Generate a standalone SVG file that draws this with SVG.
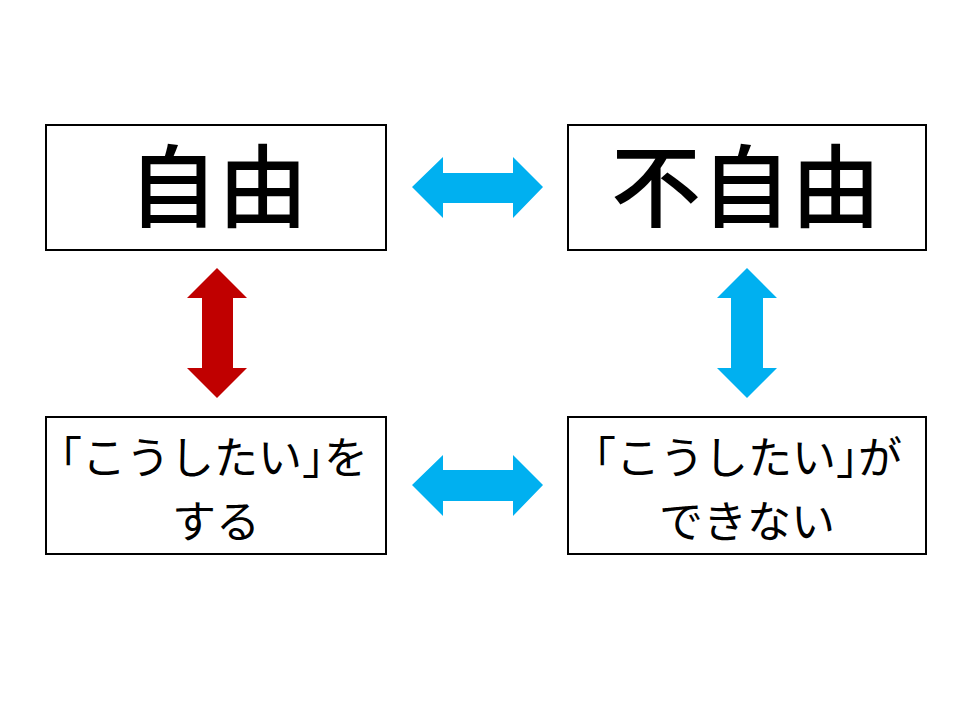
<svg xmlns="http://www.w3.org/2000/svg" width="960" height="720" viewBox="0 0 960 720">
<style>
.box{fill:#fff;stroke:#000;stroke-width:2}
.big{font-family:"Noto Sans CJK JP","Noto Sans CJK SC",sans-serif;font-size:90px;font-weight:500;fill:#000;text-anchor:middle}
.mid{font-family:"Noto Sans CJK JP","Noto Sans CJK SC",sans-serif;font-size:44px;fill:#000;text-anchor:middle}
.br{font-feature-settings:"halt"}
.blue{fill:#00B0F0}
.red{fill:#C00000}
</style>
<rect width="960" height="720" fill="#fff"/>
<g id="node-jiyu">
<rect class="box" x="46" y="125" width="340" height="125"/>
<text class="big" x="218" y="220">自由</text>
</g>
<g id="node-fujiyu">
<rect class="box" x="568" y="125" width="358" height="125"/>
<text class="big" x="746" y="220">不自由</text>
</g>
<g id="node-suru">
<rect class="box" x="46" y="417" width="340" height="137"/>
<text class="mid" x="214" y="474"><tspan class="br">「</tspan>こうしたい<tspan class="br">」</tspan>を</text>
<text class="mid" x="216" y="538">する</text>
</g>
<g id="node-dekinai">
<rect class="box" x="568" y="417" width="358" height="137"/>
<text class="mid" x="748" y="474"><tspan class="br">「</tspan>こうしたい<tspan class="br">」</tspan>が</text>
<text class="mid" x="747" y="538">できない</text>
</g>
<g id="connectors">
<polygon class="blue" points="412,187 443,157 443,173 513,173 513,157 543,187 513,218 513,203 443,203 443,218"/>
<polygon class="blue" points="412,485 443,455 443,470 513,470 513,455 543,485 513,516 513,501 443,501 443,516"/>
<polygon class="red" points="217,268 247,298 233,298 233,368 247,368 217,398 187,368 202,368 202,298 187,298"/>
<polygon class="blue" points="747,268 777,298 763,298 763,368 777,368 747,398 717,368 731,368 731,298 717,298"/>
</g>
</svg>
